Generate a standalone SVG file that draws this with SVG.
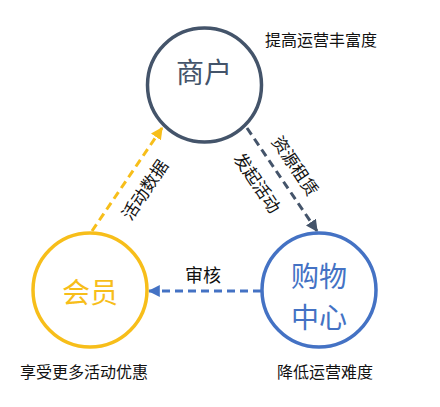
<svg xmlns="http://www.w3.org/2000/svg" width="440" height="407" viewBox="0 0 440 407">
<style>
text{font-family:"Noto Sans CJK SC","Noto Sans",sans-serif;}
.ring{fill:none;stroke-width:3.5;}
.big{font-size:28px;text-anchor:middle;}
.lbl{font-size:16px;fill:#111;text-anchor:middle;}
.edge{fill:none;stroke-width:3;stroke-dasharray:8,5;}
</style>
<defs>
<marker id="aDark" viewBox="0 0 10 10" refX="9" refY="5" markerWidth="4" markerHeight="4" orient="auto" markerUnits="strokeWidth"><path d="M0,0 L10,5 L0,10 z" fill="#44546A"/></marker>
<marker id="aYel" viewBox="0 0 10 10" refX="9" refY="5" markerWidth="4" markerHeight="4" orient="auto" markerUnits="strokeWidth"><path d="M0,0 L10,5 L0,10 z" fill="#F7BE1A"/></marker>
<marker id="aBlue" viewBox="0 0 10 10" refX="9" refY="5" markerWidth="4" markerHeight="4" orient="auto" markerUnits="strokeWidth"><path d="M0,0 L10,5 L0,10 z" fill="#4472C4"/></marker>
</defs>
<rect width="440" height="407" fill="#fff"/>
<g id="connectors">
<line class="edge" x1="247" y1="128" x2="317" y2="231" stroke="#44546A" marker-end="url(#aDark)"/>
<line class="edge" x1="92" y1="231" x2="162" y2="128" stroke="#F7BE1A" marker-end="url(#aYel)"/>
<line class="edge" x1="261" y1="291" x2="149" y2="291" stroke="#4472C4" marker-end="url(#aBlue)"/>
<text class="lbl" font-size="17" transform="translate(145,190) rotate(-56)" style="font-size:17px" dy="6">活动数据</text>
<text class="lbl" transform="translate(295,166) rotate(56)" style="font-size:17px" dy="6">资源租赁</text>
<text class="lbl" transform="translate(257,183) rotate(56)" style="font-size:17px" dy="6">发起活动</text>
<text class="lbl" x="203" y="282" style="font-size:18px">审核</text>
</g>
<g id="node-shanghu">
<circle class="ring" cx="204.5" cy="85" r="57" stroke="#44546A"/>
<text class="big" x="204" y="83" fill="#44546A">商户</text>
<text class="lbl" x="321" y="46">提高运营丰富度</text>
</g>
<g id="node-huiyuan">
<circle class="ring" cx="90" cy="290" r="57" stroke="#F7BE1A"/>
<text class="big" x="90" y="303" fill="#F7BE1A">会员</text>
<text class="lbl" x="84" y="378">享受更多活动优惠</text>
</g>
<g id="node-gouwu">
<circle class="ring" cx="319" cy="290" r="57" stroke="#4472C4"/>
<text class="big" x="319" y="287" fill="#4472C4">购物</text>
<text class="big" x="319" y="328" fill="#4472C4">中心</text>
<text class="lbl" x="325" y="378">降低运营难度</text>
</g>
</svg>
